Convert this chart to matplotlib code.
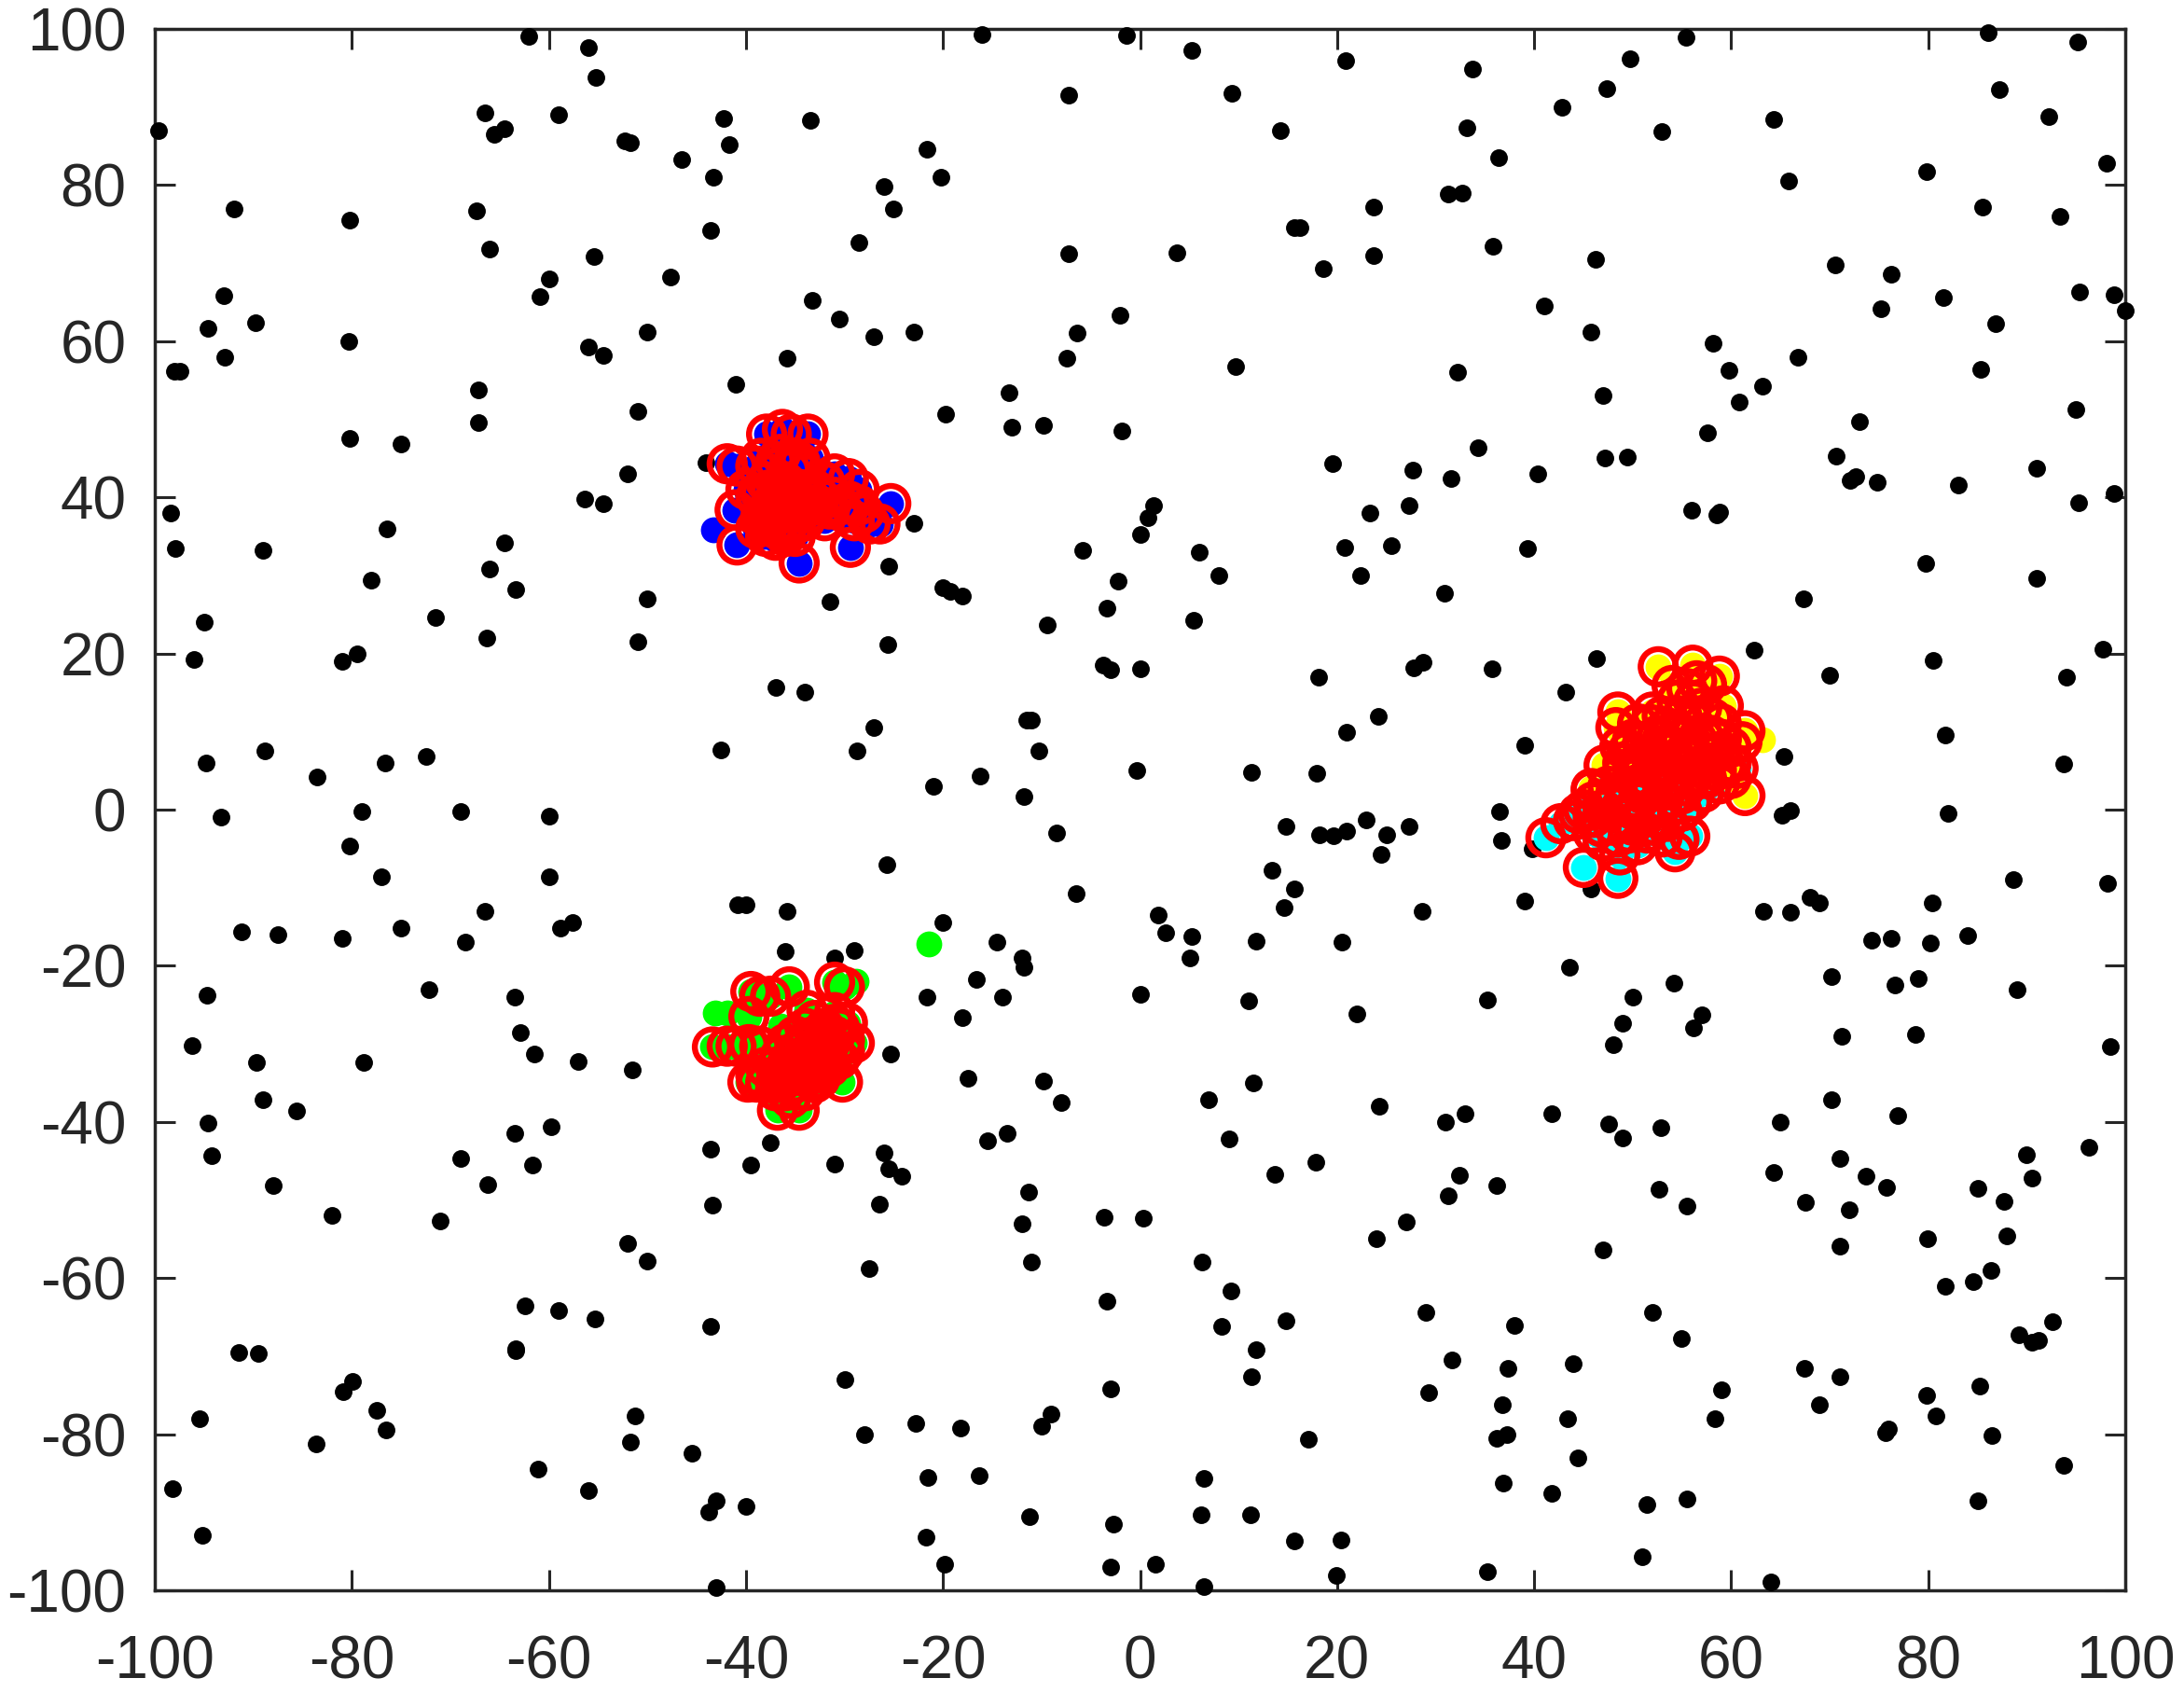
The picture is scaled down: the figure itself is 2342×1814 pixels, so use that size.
import numpy as np
import matplotlib
matplotlib.use('Agg')
import matplotlib.pyplot as plt

plt.rcParams['font.family'] = ['Liberation Sans', 'DejaVu Sans']

# background points (x, y)
black_pts = [(-99.6,87),(-98,56.2),(-97.4,56.2),(-98.4,38),(-97.9,33.5),(-95,24),(-96,19.2),(-94.8,6),(-93.3,-1),
    (-91.2,-15.7),(-94.7,-23.8),(-96.2,-30.2),(-94.6,-40.2),(-94.2,-44.3),(-89.7,-32.4),(-89,-37.2),(-88,-48.2),
    (-85.6,-38.6),(-87.5,-16),(-88.8,7.5),(-92.9,58),(-94.6,61.7),(-93,65.8),(-92,77),(-89.8,62.4),(-89,33.2),
    (-81,19),(-79.5,20),(-80.2,-4.7),(-79,-0.2),(-83.5,4.2),(-81,-16.5),(-78.8,-32.4),(-82,-52),(-91.5,-69.5),
    (-89.5,-69.7),(-95.5,-78),(-98.2,-87),(-95.2,-93),(-83.6,-81.2),(-80.9,-74.6),(-79.9,-73.2),(-80.2,75.5),(-80.3,60),
    (-80.2,47.5),(-78,29.4),(-76.4,36),(-75,46.8),(-76.6,6),(-77,-8.6),(-75,-15.2),(-77.5,-77),(-76.5,-79.5),(-72.5,6.8),
    (-72.2,-23),(-71.5,24.6),(-71,-52.7),(-69,-0.2),(-68.5,-17),(-69,-44.7),(-67.3,76.7),(-66.5,89.2),(-65.5,86.5),
    (-64.5,87.2),(-67.2,53.8),(-67.2,49.6),(-66,71.8),(-66,30.8),(-64.5,34.2),(-63.4,28.2),(-66.3,22),(-66.5,-13),
    (-66.2,-48),(-63.5,-24),(-62.9,-28.5),(-61.5,-31.3),(-63.5,-41.5),(-61.7,-45.5),(-63.4,-69.3),(-63.4,-69),
    (-62.4,-63.6),(-61.1,-84.5),(-60.9,65.7),(-60,68),(-62,99),(-59,89),(-60,-0.8),(-60,-8.6),(-58.8,-15.2),(-57.6,-14.5),
    (-59.8,-40.6),(-59,-64.2),(-57,-32.3),(-56,97.6),(-55.2,93.8),(-55.4,70.8),(-56,59.2),(-54.5,58.2),(-56.4,39.8),
    (-54.5,39.2),(-52.3,85.7),(-51.7,85.4),(-52,43),(-51,51),(-50,61.2),(-50,27),(-51,21.5),(-51.5,-33.3),(-52,-55.5),
    (-50,-57.8),(-55.3,-65.2),(-51.3,-77.6),(-51.7,-81),(-56,-87.2),(-47.7,68.2),(-46.5,83.3),(-43.6,74.2),(-43.3,81),
    (-42.3,88.5),(-41.7,85.2),(-41,54.5),(-44.1,44.4),(-41.6,44),(-42.5,7.7),(-40.8,-12.2),(-40,-12.2),(-43.6,-43.5),
    (-43.4,-50.7),(-39.5,-45.5),(-37.5,-42.6),(-43.6,-66.2),(-45.5,-82.4),(-43.8,-90),(-43,-88.5),(-40,-89.2),(-43,-99.7),
    (-35.8,57.8),(-33.9,48),(-37,15.7),(-34,15),(-35.8,-13),(-36,-18.2),(-33.5,88.3),(-33.3,65.2),(-30.5,62.8),(-31.5,26.6),
    (-31,-45.4),(-29,-18),(-31,-19),(-30.8,-22),(-28.5,72.6),(-28.7,7.5),(-27,10.5),(-27,60.6),(-26,79.8),(-25,77),(-23,61.2),
    (-25.6,21.2),(-25.5,31.2),(-25.7,-7),(-26,-44),(-26.5,-50.5),(-25.5,-46),(-24.2,-47),(-25.3,-31.3),(-27.5,-58.8),(-30,-73),
    (-28,-80),(-23,36.7),(-21.6,84.6),(-20.2,81),(-19.7,50.6),(-16,99.3),(-20,28.4),(-19.3,28),(-18,27.4),(-21,3),(-21.6,-24),
    (-20,-14.5),(-18,-26.6),(-17.5,-34.4),(-16.2,4.3),(-15.5,-42.4),(-14.5,-17),(-14,-24),(-13.5,-41.5),(-12,-19),(-11.8,-20.2),
    (-13.3,53.4),(-13,49),(-9.8,49.2),(-11.8,1.7),(-11.5,11.5),(-11,11.5),(-10.3,7.5),(-12,-53),(-11.3,-49),(-11,-58),
    (-16.6,-21.8),(-22.8,-78.6),(-21.5,-85.5),(-21.7,-93.2),(-19.8,-96.7),(-18.2,-79.2),(-16.3,-85.3),(-11.2,-90.6),(-10,-79),
    (-9,-77.4),(-9.4,23.6),(-8.5,-3),(-9.8,-34.8),(-8,-37.5),(-7.2,91.5),(-7.2,71.2),(-7.4,57.8),(-6.4,61),(-5.8,33.2),
    (-6.5,-10.7),(-3.7,18.5),(-3,17.9),(-3.4,25.8),(-2.2,29.3),(-2,63.3),(-1.8,48.5),(-1.4,99.2),(0,35.2),(0.8,37.4),(1.4,39),
    (0,18),(-0.3,5),(0,-23.7),(-3.6,-52.2),(0.3,-52.3),(-3.4,-63),(-3,-74.2),(-2.7,-91.5),(-3,-97),(1.6,-96.7),(1.8,-13.5),
    (2.6,-15.8),(3.7,71.3),(5.3,97.2),(5.4,24.3),(5.3,-16.3),(5.1,-19),(6,33),(8,30),(9.3,91.7),(9.7,56.8),(6.3,-57.9),
    (7,-37.2),(9,-42.2),(8.3,-66.2),(9.2,-61.7),(6.2,-90.3),(6.5,-85.7),(6.5,-99.5),(11,-24.5),(11.3,4.8),(11.5,-35),
    (11.8,-16.8),(11.3,-72.7),(11.8,-69.2),(11.2,-90.3),(13.4,-7.8),(13.7,-46.7),(14.2,87),(14.6,-12.6),(14.8,-2.1),
    (15.7,74.6),(16.2,74.5),(15.7,-10.2),(14.8,-65.5),(15.7,-93.7),(17.1,-80.7),(17.8,-45.2),(17.9,4.7),(18.1,17),(18.2,-3.2),
    (18.6,69.3),(19.6,-3.4),(19.5,44.3),(20.8,33.6),(21,-2.7),(21,9.9),(20.9,95.9),(20.5,-17),(20.4,-93.5),(19.9,-98.1),
    (22,-26.2),(22.4,30),(23.3,38),(23.7,77.2),(23.7,71),(23,-1.3),(24.2,11.9),(24.3,-38),(24,-55),(24.5,-5.7),(25,-3.2),
    (25.5,33.8),(27.3,39),(27.3,-2.2),(27.7,43.5),(27.8,18.2),(28.6,-13),(28.7,18.9),(27,-52.8),(29,-64.4),(29.3,-74.7),
    (30.9,27.7),(31,-40),(31.3,-49.5),(31.3,78.9),(31.6,42.4),(31.7,-70.5),(32.2,56),(32.4,-46.8),(32.7,79),(33,-39),
    (33.2,87.3),(33.7,94.9),(34.3,46.4),(35.3,-97.6),(35.3,-24.4),(35.7,18),(35.8,72.2),(36.2,-80.5),(36.4,83.5),(36.2,-48.2),
    (36.5,-0.2),(36.7,-4),(36.8,-76.2),(36.9,-86.3),(37.2,-80),(37.3,-71.6),(38,-66.1),(39,8.2),(39,-11.7),(39.3,33.5),
    (39.8,-5),(40.4,43),(41,64.5),(41.8,-39),(41.8,-87.6),(42.8,90),(43.2,15),(43.4,-78),(43.6,-20.2),(44,-71),(44.4,-83),
    (45.8,61.2),(45.8,-10.2),(46.2,70.5),(46.3,19.3),(47,-56.4),(47,53),(47.2,45.1),(47.4,92.3),(47.6,-40.3),(48,-30.1),
    (49,-42),(49,-27.4),(49.5,45.2),(49.7,96.2),(50,-24),(51,-95.7),(51.4,-89),(52,-64.4),(52.7,-48.6),(52.9,-40.7),(53,86.8),
    (53.9,15.6),(54.2,-22.2),(54.9,-67.7),(55.4,98.9),(55.5,-88.3),(55.5,-50.8),(56,38.3),(56.2,-27.9),(57,-26.3),(57.6,48.3),
    (58.2,59.7),(58.5,37.7),(58.8,38.1),(58.4,-78),(59,-74.3),(59.8,56.3),(60.8,52.2),(62.3,20.4),(63.2,54.2),(64.3,88.4),
    (64,-98.9),(63.3,-13),(64.3,-46.5),(65,-40),(65.2,-0.7),(65.4,6.8),(66,-13.2),(66,-0.1),(65.8,80.5),(66.8,58),(67.3,27),
    (67.5,-50.3),(67.4,-71.6),(68,-11.2),(69,-12),(69,-76.2),(70,17.2),(70.2,-37.2),(70.2,-21.4),(70.6,69.8),(70.7,45.3),
    (71.2,-29),(71,-44.7),(71,-55.9),(71,-72.6),(72,-51.2),(72.1,42.2),(72.6,42.7),(73,49.7),(73.7,-46.9),(74.3,-16.7),
    (74.8,41.9),(75.2,64.2),(75.8,-48.4),(75.7,-79.8),(76,-79.3),(76.2,68.6),(76.2,-16.5),(76.6,-22.5),(76.9,-39.2),
    (78.7,-28.8),(79,-21.6),(79.7,31.6),(79.8,81.7),(79.9,-55),(79.8,-75),(80.2,-17.1),(80.4,-11.9),(80.5,19.1),(80.8,-77.6),
    (81.5,65.6),(81.7,9.5),(82,-0.5),(81.7,-61),(83.1,41.6),(84,-16.1),(84.6,-60.5),(85,-48.5),(85,-88.5),(85.2,-73.8),
    (85.3,56.4),(85.5,77.2),(86.1,99.5),(86.4,-59),(86.5,-80.2),(86.8,62.3),(87.2,92.2),(87.7,-50.2),(88,-54.6),(88.6,-9),
    (89,-23),(89.2,-67.3),(90,-44.2),(90.5,-47.2),(90.5,-68.2),(91,43.7),(91,29.6),(91.2,-68),(92.2,88.8),(92.6,-65.6),
    (93.4,76),(93.8,5.8),(93.8,-84),(94,17),(95,51.2),(95.2,98.3),(95.3,39.3),(95.4,66.3),(96.3,-43.2),(97.7,20.5),
    (98.1,82.8),(98.2,-9.4),(98.5,-30.3),(98.9,40.5),(98.9,65.9),(100,63.9)]

# cluster points with a red ring
blue_pts = [(-37.9,48.1),(-36.3,48.7),(-35.4,48.1),(-33.7,48.1),(-41.9,44.3),(-40.9,44),(-41.1,38.4),(-40.9,33.9),
    (-34.6,31.6),(-29.4,33.6),(-25.3,39.2),(-26.4,36.6),(-27.4,36.6),(-31,43),(-29.6,42.4),(-28.5,41),(-39,44),(-38,42),
    (-37,44.5),(-36,42),(-35,45),(-34,43),(-33,41),(-39,40),(-38,38),(-37,40),(-36,38),(-35,40),(-34,37),(-33,39),(-32,37),
    (-31,40),(-30,38),(-29,37),(-28,38),(-39,36),(-38,35),(-37,34.5),(-36,35),(-35,35),(-40,41),(-36,40.5),(-34.5,41),(-32,42),
    (-38.5,45),(-37.5,43),(-36.5,45.5),(-35.5,43.5),(-34.5,44.5),(-33.5,45),(-38.5,40.5),(-37.5,41),(-36.5,41.5),(-35.5,41),
    (-34,40),(-33.5,38),(-37.5,37),(-36.5,37),(-35.5,37),(-34.5,38),(-32.5,40),(-31.5,38.5),(-30.5,39),(-29.5,39.5),(-28.5,39),
    (-38.5,37.5),(-37.5,39),(-36.5,39),(-35.5,39),(-34.5,39),(-36,36),(-35,36.5),(-37,36)]
green_pts = [(-43.4,-30.4),(-41.9,-30.3),(-41,-30.3),(-39.7,-30.1),(-38.6,-30.3),(-39.5,-23.3),(-38.6,-23.9),(-37.5,-23.9),
    (-35.6,-22.7),(-31,-22.1),(-30,-22.7),(-29,-29.9),(-30.2,-34.9),(-39.8,-34.9),(-38.9,-34.9),(-36.8,-38.5),(-34.6,-38.5),
    (-39.7,-26.5),(-33.8,-25.7),(-29.7,-27.3),(-38,-33),(-37,-35),(-36,-33),(-35,-35),(-34,-33),(-33,-35),(-32,-33),(-36,-30),
    (-35,-31),(-34,-30),(-33,-29),(-32,-31),(-31,-29),(-30,-31),(-33,-27),(-32,-28),(-31,-26),(-34,-36),(-35,-29),(-33,-32),
    (-37,-36),(-35.5,-37),(-39,-34),(-38,-35),(-36,-36),(-35,-33),(-34,-31.5),(-33,-30.5),(-32,-30),(-31,-31),(-30.5,-28),
    (-31.5,-33),(-32.5,-34.5),(-33.5,-34),(-34.5,-34),(-35.5,-32),(-36.5,-31.5),(-37,-33),(-34,-28),(-33,-33.5),(-32,-29),
    (-31,-27.5),(-30,-29.5),(-30.5,-32),(-31.5,-30),(-33.5,-31),(-34.5,-32),(-32.5,-32),(-35,-34),(-36,-34.5)]
cyan_pts = [(41.2,-3.6),(42.7,-1.8),(44,-1.4),(45,-7.4),(48.5,-8.8),(48.7,-5.8),(54.3,-5.4),(55.8,-3.4),(54.7,-3.8),(57.2,2.2),
    (59.4,5.7),(60.7,5.3),(58.8,3.3),(55,-0.2),(48.3,2.2),(45.8,2.5),(51.2,-1),(49.6,-3),(46.8,-2.2),(53.4,2.5),(56.9,5.5),
    (53.7,7.3),(47,0),(48,-2),(50,0),(51,2),(52,-2),(52.5,0.5),(50,4),(49,5),(51,5.5),(54,4),(55.5,3),(46,-1),(45,0),(47.5,3),
    (53,-3.5),(50.5,-4.5),(56,1),(47,-4),(48.5,-3.5),(50,-2),(51.5,-3),(52.5,-1),(49,0.5),(50.5,1),(52,3),(53,1),(54,1.5),
    (55,2),(48,1),(46,1),(49.5,2.5),(51,3.5),(52.5,5),(54.5,6),(56,4),(57.5,4),(49.5,-1),(44.5,-0.5),(46,-3),(51,-0.5),(53.5,-1.5)]
yellow_pts = [(52.6,18.3),(56.1,18.5),(58.8,17.1),(54,15.9),(48.5,12.5),(48.3,10.5),(59.2,13.3),(61.4,10.1),(61.1,8.7),
    (61.4,1.8),(57.2,9.3),(51.8,10.9),(56.2,13.9),(58.1,11.7),(48.7,8.1),(47.1,5.7),(45.8,2.7),(57.5,16),(55,12),(53,9),
    (50,9),(52,7),(54,10),(56,7),(58,7),(60,6),(49,6),(51,8.5),(55,9),(53,12),(59,9),(57,4),(55.5,15.5),(56.5,16.5),(54.5,14),
    (56,11.5),(57,13),(52,12.5),(50.5,11),(53.5,10.5),(52.5,9.5),(51,6.5),(53,7.5),(55,7),(56.5,9),(58,9.5),(59,7.5),(60,8),
    (49.5,7.5),(50,5.5),(52,5.5),(54,8),(57.5,6),(58.5,5),(60,4),(59,11)]

# cluster points without a ring
blue_only = [(-43.3,35.9)]
green_only = [(-21.4,-17.2),(-43.1,-26),(-41.9,-26.1),(-28.8,-22),(-36.5,-27.7)]
yellow_only = [(63.2,9)]

ticks = np.arange(-100, 101, 20)
ink = '#262626'

fig = plt.figure(figsize=(23.42, 18.14), dpi=100)
ax = fig.add_axes([166/2342, 1-1705/1814, (2279-166)/2342, (1705-31)/1814])


def dots(pts, color, size):
    p = np.array(pts)
    ax.scatter(p[:, 0], p[:, 1], s=size, c=color, linewidths=0, clip_on=False, zorder=3)


dots(black_pts, 'black', 185)
dots(blue_pts + blue_only, '#0000ff', 400)
dots(green_pts + green_only, '#00ff00', 400)
dots(cyan_pts, '#00ffff', 400)
dots(yellow_pts + yellow_only, '#ffff00', 400)

rings = np.array(blue_pts + green_pts + cyan_pts + yellow_pts)
ax.scatter(rings[:, 0], rings[:, 1], s=740, facecolors='none', edgecolors='#ff0000', linewidths=4.6, clip_on=False, zorder=4)

ax.set_xlim(-100, 100)
ax.set_ylim(-100, 100)
ax.set_xticks(ticks)
ax.set_yticks(ticks)
ax.tick_params(axis='x', direction='in', length=16, width=2.2, top=True, color=ink, labelcolor=ink, labelsize=46, pad=34)
ax.tick_params(axis='y', direction='in', length=16, width=2.2, right=True, color=ink, labelcolor=ink, labelsize=46, pad=22)
ax.xaxis.set_major_formatter(lambda v, pos: '%d' % v)
ax.yaxis.set_major_formatter(lambda v, pos: '%d' % v)
for s in ax.spines.values():
    s.set_linewidth(2.5)
    s.set_color(ink)

fig.savefig('out.png', dpi=100)
